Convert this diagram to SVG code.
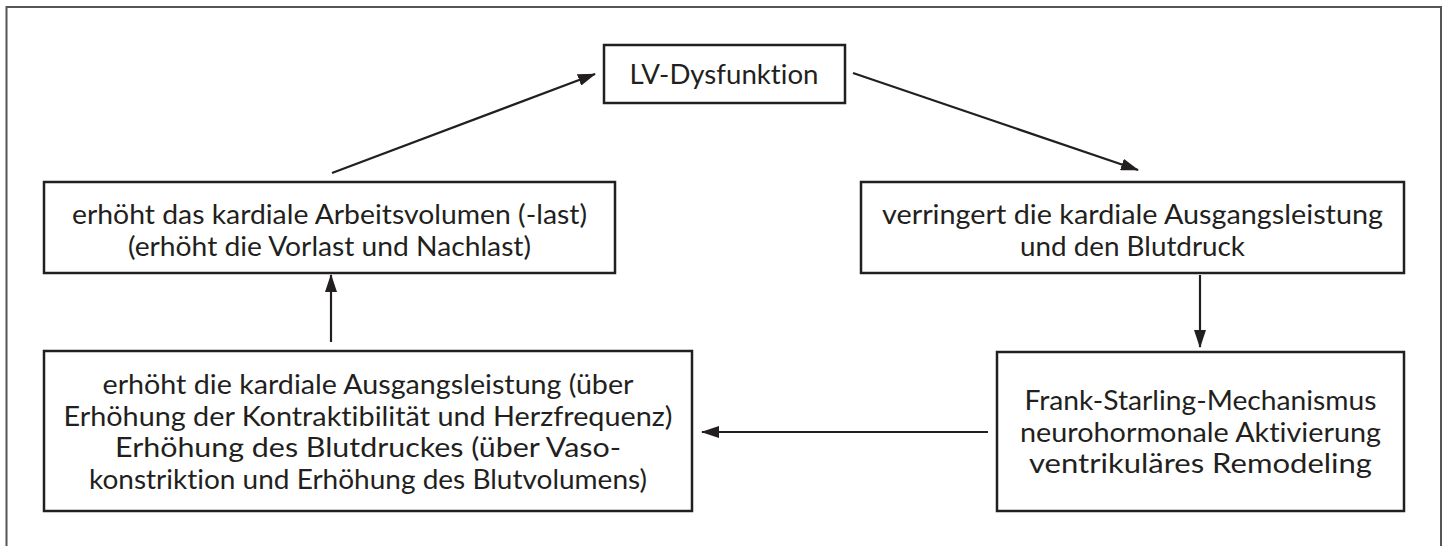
<svg xmlns="http://www.w3.org/2000/svg" width="1448" height="546" viewBox="0 0 1448 546">
  <defs>
    <style>
      .frame { fill: none; stroke: #555; stroke-width: 2; }
      .box { fill: #fff; stroke: #231f20; stroke-width: 2.5; }
      .t { font-family: Lato, "Open Sans", "Noto Sans", sans-serif; fill: #231f20; text-anchor: middle; font-variant-ligatures: none; font-feature-settings: "liga" 0, "clig" 0; }
      .big { font-size: 26px; }
      .lv { font-size: 27px; }
      .cond { font-size: 26px; }
      .edge { fill: none; stroke: #231f20; stroke-width: 2.2; marker-end: url(#arrow); }
    </style>
    <marker id="arrow" markerUnits="userSpaceOnUse" markerWidth="18" markerHeight="12" refX="17" refY="6" orient="auto">
      <path d="M0,0 L18,6 L0,12 z" fill="#231f20"/>
    </marker>
  </defs>
  <rect width="1448" height="546" fill="#fff"/>
  <path class="frame" d="M6.5,546 V7 H1441 V546"/>

  <g id="edges">
    <line class="edge" x1="332" y1="173" x2="595" y2="74"/>
    <line class="edge" x1="853" y1="73" x2="1138" y2="170"/>
    <line class="edge" x1="1200" y1="275" x2="1200" y2="347"/>
    <line class="edge" x1="988" y1="432" x2="702" y2="432"/>
    <line class="edge" x1="331" y1="342" x2="331" y2="275"/>
  </g>

  <g id="lv">
    <rect class="box" x="604" y="45" width="241" height="58"/>
    <text class="t lv" x="724" y="84" textLength="189" lengthAdjust="spacingAndGlyphs">LV-Dysfunktion</text>
  </g>

  <g id="arbeitsvolumen">
    <rect class="box" x="44" y="182" width="571" height="91"/>
    <text class="t big" x="329.5" y="224" textLength="515" lengthAdjust="spacingAndGlyphs">erhöht das kardiale Arbeitsvolumen (-last)</text>
    <text class="t big" x="329.5" y="256" textLength="403" lengthAdjust="spacingAndGlyphs">(erhöht die Vorlast und Nachlast)</text>
  </g>

  <g id="ausgangsleistung">
    <rect class="box" x="861" y="182" width="543" height="91"/>
    <text class="t big" x="1132.5" y="224" textLength="501" lengthAdjust="spacingAndGlyphs">verringert die kardiale Ausgangsleistung</text>
    <text class="t big" x="1132.5" y="256" textLength="225" lengthAdjust="spacingAndGlyphs">und den Blutdruck</text>
  </g>

  <g id="mechanismen">
    <rect class="box" x="997" y="352" width="407" height="159"/>
    <text class="t cond" x="1200.5" y="410" textLength="352" lengthAdjust="spacingAndGlyphs">Frank-Starling-Mechanismus</text>
    <text class="t cond" x="1200.5" y="441.5" textLength="361" lengthAdjust="spacingAndGlyphs">neurohormonale Aktivierung</text>
    <text class="t cond" x="1200.5" y="473" textLength="343" lengthAdjust="spacingAndGlyphs">ventrikuläres Remodeling</text>
  </g>

  <g id="kompensation">
    <rect class="box" x="44" y="351" width="648" height="160"/>
    <text class="t cond" x="368" y="394" textLength="531" lengthAdjust="spacingAndGlyphs">erhöht die kardiale Ausgangsleistung (über</text>
    <text class="t cond" x="368" y="425.5" textLength="609" lengthAdjust="spacingAndGlyphs">Erhöhung der Kontraktibilität und Herzfrequenz)</text>
    <text class="t cond" x="368" y="457" textLength="506" lengthAdjust="spacingAndGlyphs">Erhöhung des Blutdruckes (über Vaso-</text>
    <text class="t cond" x="368" y="488.5" textLength="558" lengthAdjust="spacingAndGlyphs">konstriktion und Erhöhung des Blutvolumens)</text>
  </g>
</svg>
